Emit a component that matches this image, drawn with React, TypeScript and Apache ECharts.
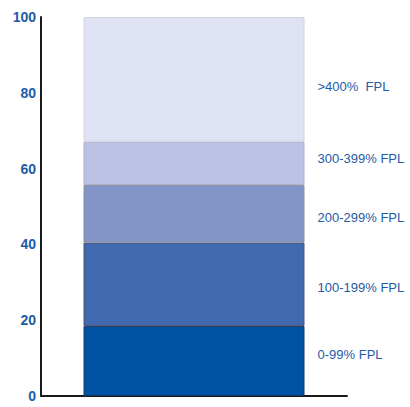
import React, { useEffect, useRef } from "react";
import * as echarts from "echarts";

const categories = ["All"];
const seriesNames = ["0-99% FPL", "100-199% FPL", "200-299% FPL", "300-399% FPL", ">400%  FPL"];
const seriesValues = [18.5, 22.0, 15.2, 11.4, 32.9];
const yTicks = [0, 20, 40, 60, 80, 100];

const colors = ["#0052a3", "#4169b0", "#8394c8", "#bcc2e3", "#dfe2f3"];
const borders = ["#1d3560", "#4a5570", "#8a8fa0", "#aab0c8", "#d0d4e4"];
const labelOffsets = [[0, -6], [0, 3], [0, 4], [0, -5], [0, 7]];
const FONT = "'Liberation Sans', Arial, sans-serif";

export default function App() {
  const ref = useRef<HTMLDivElement>(null);
  useEffect(() => {
    const chart = echarts.init(ref.current!, null, { renderer: "svg" });
    chart.setOption({
      animation: false,
      grid: { left: 41, right: 63, top: 17, bottom: 11, containLabel: false },
      xAxis: {
        type: "category",
        data: categories,
        axisLine: { show: true, lineStyle: { color: "#1a1a1a", width: 2 } },
        axisTick: { show: false },
        axisLabel: { show: false },
      },
      yAxis: {
        type: "value",
        min: yTicks[0],
        max: yTicks[yTicks.length - 1],
        interval: 20,
        axisLine: { show: true, lineStyle: { color: "#1a1a1a", width: 2 } },
        axisTick: { show: false },
        splitLine: { show: false },
        axisLabel: {
          color: "#1f5aa6",
          fontFamily: FONT,
          fontSize: 14,
          fontWeight: "bold",
          margin: 5,
        },
      },
      series: seriesNames.map((name, i) => ({
        name,
        type: "bar",
        stack: "total",
        barWidth: 221,
        data: [seriesValues[i]],
        itemStyle: { color: colors[i], borderColor: borders[i], borderWidth: 1 },
        label: {
          show: true,
          position: "right",
          distance: 13,
          offset: labelOffsets[i],
          formatter: name,
          color: "#1f5aa6",
          fontFamily: FONT,
          fontSize: 13,
        },
      })),
    });
    return () => chart.dispose();
  }, []);
  return <div ref={ref} style={{ width: 410, height: 407, position: "absolute", left: 0, top: 0, background: "#fff" }} />;
}
